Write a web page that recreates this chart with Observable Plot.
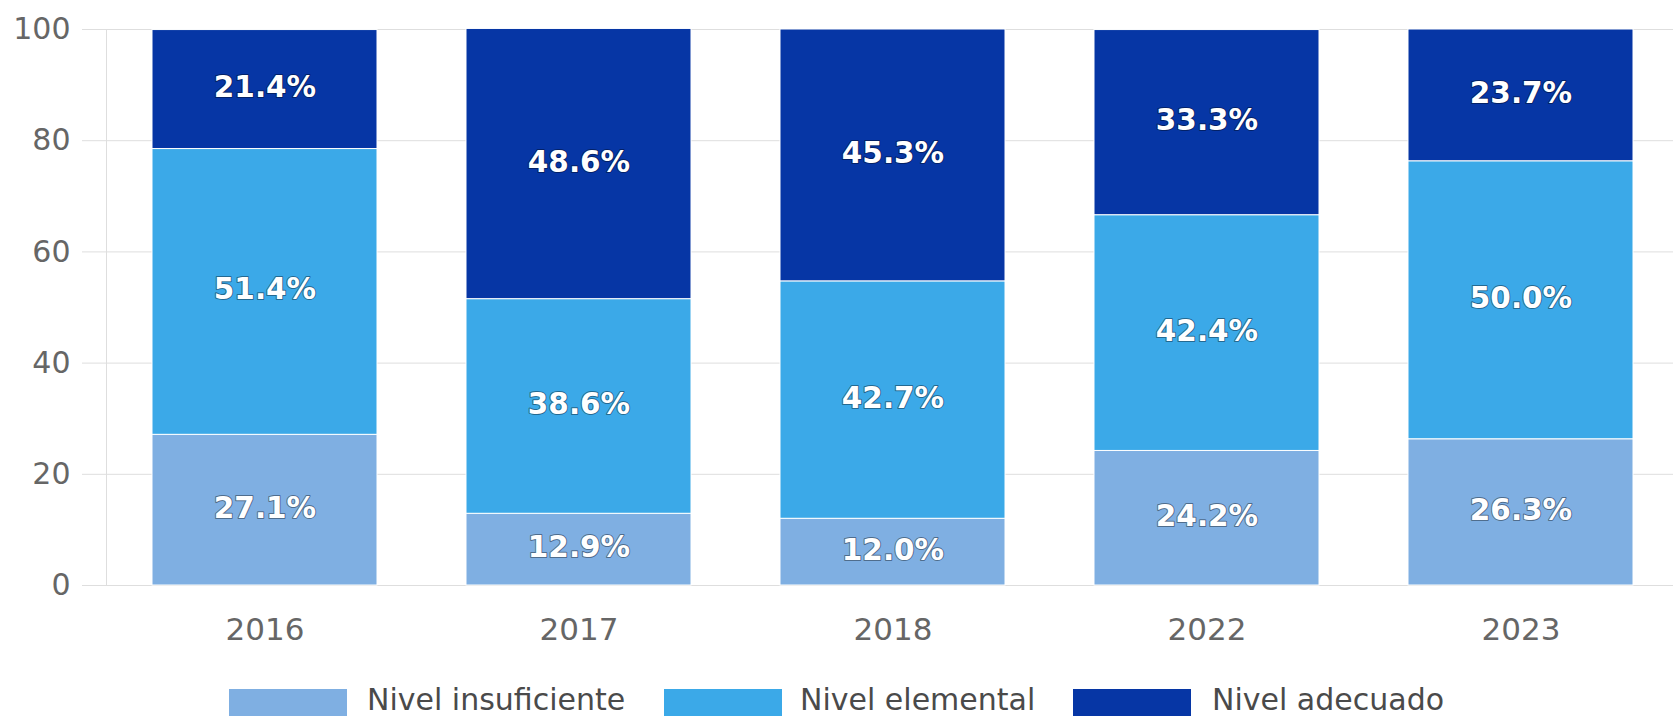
<!DOCTYPE html>
<html>
<head>
<meta charset="utf-8">
<script src="https://cdn.jsdelivr.net/npm/d3@7"></script>
<script src="https://cdn.jsdelivr.net/npm/@observablehq/plot@0.6"></script>
<style>
  html, body { margin: 0; padding: 0; background: #fff; overflow: hidden; width: 1673px; height: 716px; }
  #chart { position: absolute; left: 0; top: 0; }
  #legend { position: absolute; left: 0; top: 0; width: 1673px; height: 716px; pointer-events: none;
            font-family: "DejaVu Sans", sans-serif; font-size: 30px; color: #4a4a4a; }
  .sw { position: absolute; top: 689px; width: 118px; height: 30px; }
  .lt { position: absolute; top: 685px; line-height: 30px; white-space: nowrap; }
</style>
</head>
<body>
<div id="chart"></div>
<div id="legend"></div>
<script>
const years = ["2016", "2017", "2018", "2022", "2023"];
const levels = ["Nivel insuficiente", "Nivel elemental", "Nivel adecuado"];
const colors = ["#7fafe2", "#3ba9e8", "#0636a5"];
const insuficiente = [27.1, 12.9, 12.0, 24.2, 26.3];
const elemental = [51.4, 38.6, 42.7, 42.4, 50.0];
const adecuado = [21.4, 48.6, 45.3, 33.3, 23.7];
const yTicks = [0, 20, 40, 60, 80, 100];

const series = [insuficiente, elemental, adecuado];
const data = [];
levels.forEach((lvl, i) => years.forEach((yr, j) => data.push({year: yr, level: lvl, value: series[i][j]})));

const chart = Plot.plot({
  width: 1673,
  height: 686,
  marginLeft: 106,
  marginRight: 0,
  marginTop: 29,
  marginBottom: 101,
  style: {fontFamily: "DejaVu Sans, sans-serif", background: "#fff"},
  x: {domain: years, range: [106, 1680], paddingInner: 0.283, paddingOuter: 0.1415, label: null},
  y: {domain: [0, 100], label: null},
  color: {domain: levels, range: colors},
  marks: [
    Plot.gridY(yTicks, {stroke: "#dedede", strokeOpacity: 1}),
    Plot.axisY(yTicks, {tickSize: 24, tickPadding: 12, fontSize: 30, stroke: "#dedede", fill: "#666", label: null}),
    Plot.frame({anchor: "left", stroke: "#dedede"}),
    Plot.barY(data, {x: "year", y: "value", fill: "level", order: levels, stroke: "#fff", strokeWidth: 1}),
    Plot.text(data, Plot.stackY({x: "year", y: "value", z: "level", order: levels,
      text: d => d.value.toFixed(1) + "%", fill: "#fff", fontSize: 29.5, fontWeight: "bold",
      stroke: "#000", strokeOpacity: 0.4, strokeWidth: 2, paintOrder: "stroke", dy: -2})),
    Plot.axisX({tickSize: 0, tickPadding: 32, fontSize: 31, fill: "#666", label: null})
  ]
});
document.getElementById("chart").appendChild(chart);

// legend
const legend = document.getElementById("legend");
const swLeft = [229, 664, 1073];
const txLeft = [367, 800, 1212];
levels.forEach((lvl, i) => {
  const s = document.createElement("div");
  s.className = "sw"; s.style.left = swLeft[i] + "px"; s.style.background = colors[i];
  legend.appendChild(s);
  const t = document.createElement("div");
  t.className = "lt"; t.style.left = txLeft[i] + "px"; t.textContent = lvl;
  legend.appendChild(t);
});
</script>
</body>
</html>
